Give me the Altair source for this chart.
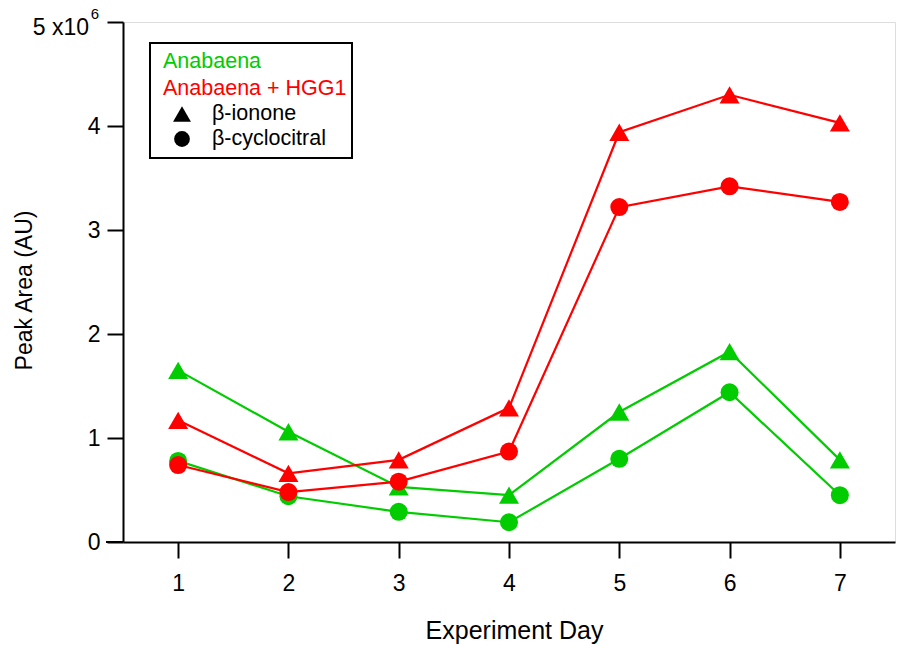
import altair as alt
import pandas as pd

days = [1, 2, 3, 4, 5, 6, 7]
ana_ionone = [1.65, 1.06, 0.53, 0.45, 1.25, 1.83, 0.79]
ana_cyclo = [0.78, 0.44, 0.29, 0.19, 0.80, 1.44, 0.45]
hgg_ionone = [1.17, 0.66, 0.79, 1.29, 3.94, 4.30, 4.03]
hgg_cyclo = [0.74, 0.48, 0.58, 0.87, 3.22, 3.42, 3.27]

series = [
    ("Anabaena", "β-ionone", ana_ionone),
    ("Anabaena", "β-cyclocitral", ana_cyclo),
    ("Anabaena + HGG1", "β-ionone", hgg_ionone),
    ("Anabaena + HGG1", "β-cyclocitral", hgg_cyclo),
]
rows = []
for i, (strain, comp, vals) in enumerate(series):
    for d, v in zip(days, vals):
        rows.append({"day": d, "value": v * 1e6, "strain": strain,
                     "compound": comp, "series": f"{strain}|{comp}", "ord": i})
df = pd.DataFrame(rows)

GREEN = "#00CC00"
RED = "#FF0000"
FONT = "Liberation Sans"

color = alt.Color("strain:N", scale=alt.Scale(domain=["Anabaena", "Anabaena + HGG1"],
                                              range=[GREEN, RED]), legend=None)

xenc = alt.X("day:Q", scale=alt.Scale(domain=[0.5, 7.5], nice=False, zero=False),
             axis=alt.Axis(values=days, format="d", title="Experiment Day",
                           grid=False, domainColor="black", domainWidth=2,
                           tickColor="black", tickWidth=2, tickSize=16,
                           labelFont=FONT, labelFontSize=23, labelColor="black",
                           labelPadding=14, titleFont=FONT, titleFontSize=25,
                           titleFontWeight="normal", titleColor="black",
                           titleX=391, titleY=88, titleBaseline="middle"))
yenc = alt.Y("value:Q", scale=alt.Scale(domain=[0, 5e6], nice=False),
             axis=alt.Axis(values=[0, 1e6, 2e6, 3e6, 4e6, 5e6],
                           labelExpr="datum.value >= 5000000 ? '' : format(datum.value/1000000, 'd')",
                           title="Peak Area (AU)", grid=False, domainColor="black",
                           domainWidth=2, tickColor="black", tickWidth=2, tickSize=16,
                           labelFont=FONT, labelFontSize=23, labelColor="black",
                           labelPadding=7, titleFont=FONT, titleFontSize=23,
                           titleFontWeight="normal", titleColor="black",
                           titleX=-99, titleY=268, titleAngle=-90, titleBaseline="middle"))

base = alt.Chart(df)
lines = base.mark_line(strokeWidth=2.2).encode(x=xenc, y=yenc, color=color,
                                               detail="series:N", order="day:Q")
tri = base.transform_filter(alt.datum.compound == "β-ionone").mark_point(
    shape="triangle-up", filled=True, opacity=1, size=400).encode(
    x="day:Q", y="value:Q", color=color)
circ = base.transform_filter(alt.datum.compound == "β-cyclocitral").mark_point(
    shape="circle", filled=True, opacity=1, size=324).encode(
    x="day:Q", y="value:Q", color=color)

# top tick label "5 x10^6"
top_lbl = alt.Chart(pd.DataFrame({"t": ["5 x10"]})).mark_text(
    font=FONT, fontSize=23, align="right", baseline="middle", color="black", dy=6).encode(
    x=alt.value(89 - 123), y=alt.datum(5e6), text="t:N")
top_sup = alt.Chart(pd.DataFrame({"t": ["6"]})).mark_text(
    font=FONT, fontSize=15, align="right", baseline="middle", color="black", dy=-8).encode(
    x=alt.value(99 - 123), y=alt.datum(5e6), text="t:N")

# x axis extension to the left
ext = alt.Chart(pd.DataFrame({"a": [0]})).mark_rule(color="black", strokeWidth=2).encode(
    x=alt.value(-17), x2=alt.value(0), y=alt.value(520))

# legend box (plot origin at 123,22)
box = alt.Chart(pd.DataFrame({"a": [0]})).mark_rect(
    fill="white", stroke="black", strokeWidth=2).encode(
    x=alt.value(150 - 123), x2=alt.value(352 - 123), y=alt.value(43 - 22), y2=alt.value(158 - 22))
leg_names = ["Anabaena", "Anabaena + HGG1", "β-ionone", "β-cyclocitral"]
leg_text = alt.Chart(pd.DataFrame({
    "t": leg_names,
    "px": [163 - 123, 163 - 123, 212 - 123, 212 - 123],
    "py": [62 - 22, 89 - 22, 114 - 22, 139 - 22],
    "c": [GREEN, RED, "black", "black"],
})).mark_text(font=FONT, fontSize=21.5, align="left", baseline="middle").encode(
    x=alt.X("px:Q", scale=None), y=alt.Y("py:Q", scale=None),
    text="t:N", color=alt.Color("c:N", scale=None))
leg_tri = alt.Chart(pd.DataFrame({"a": [0]})).mark_point(
    shape="triangle-up", filled=True, opacity=1, size=320, color="black").encode(
    x=alt.value(182 - 123), y=alt.value(114 - 22))
leg_circ = alt.Chart(pd.DataFrame({"a": [0]})).mark_point(
    shape="circle", filled=True, opacity=1, size=250, color="black").encode(
    x=alt.value(182 - 123), y=alt.value(139 - 22))

chart = alt.layer(lines, tri, circ, top_lbl, top_sup, ext, box, leg_text, leg_tri, leg_circ).properties(
    width=772, height=520,
    autosize=alt.AutoSizeParams(type="none"),
    padding={"left": 123, "top": 22, "right": 2, "bottom": 104},
).configure_view(stroke=None).configure(background="white")

chart.save("out.html", embed_options={"renderer": "svg", "actions": False})
